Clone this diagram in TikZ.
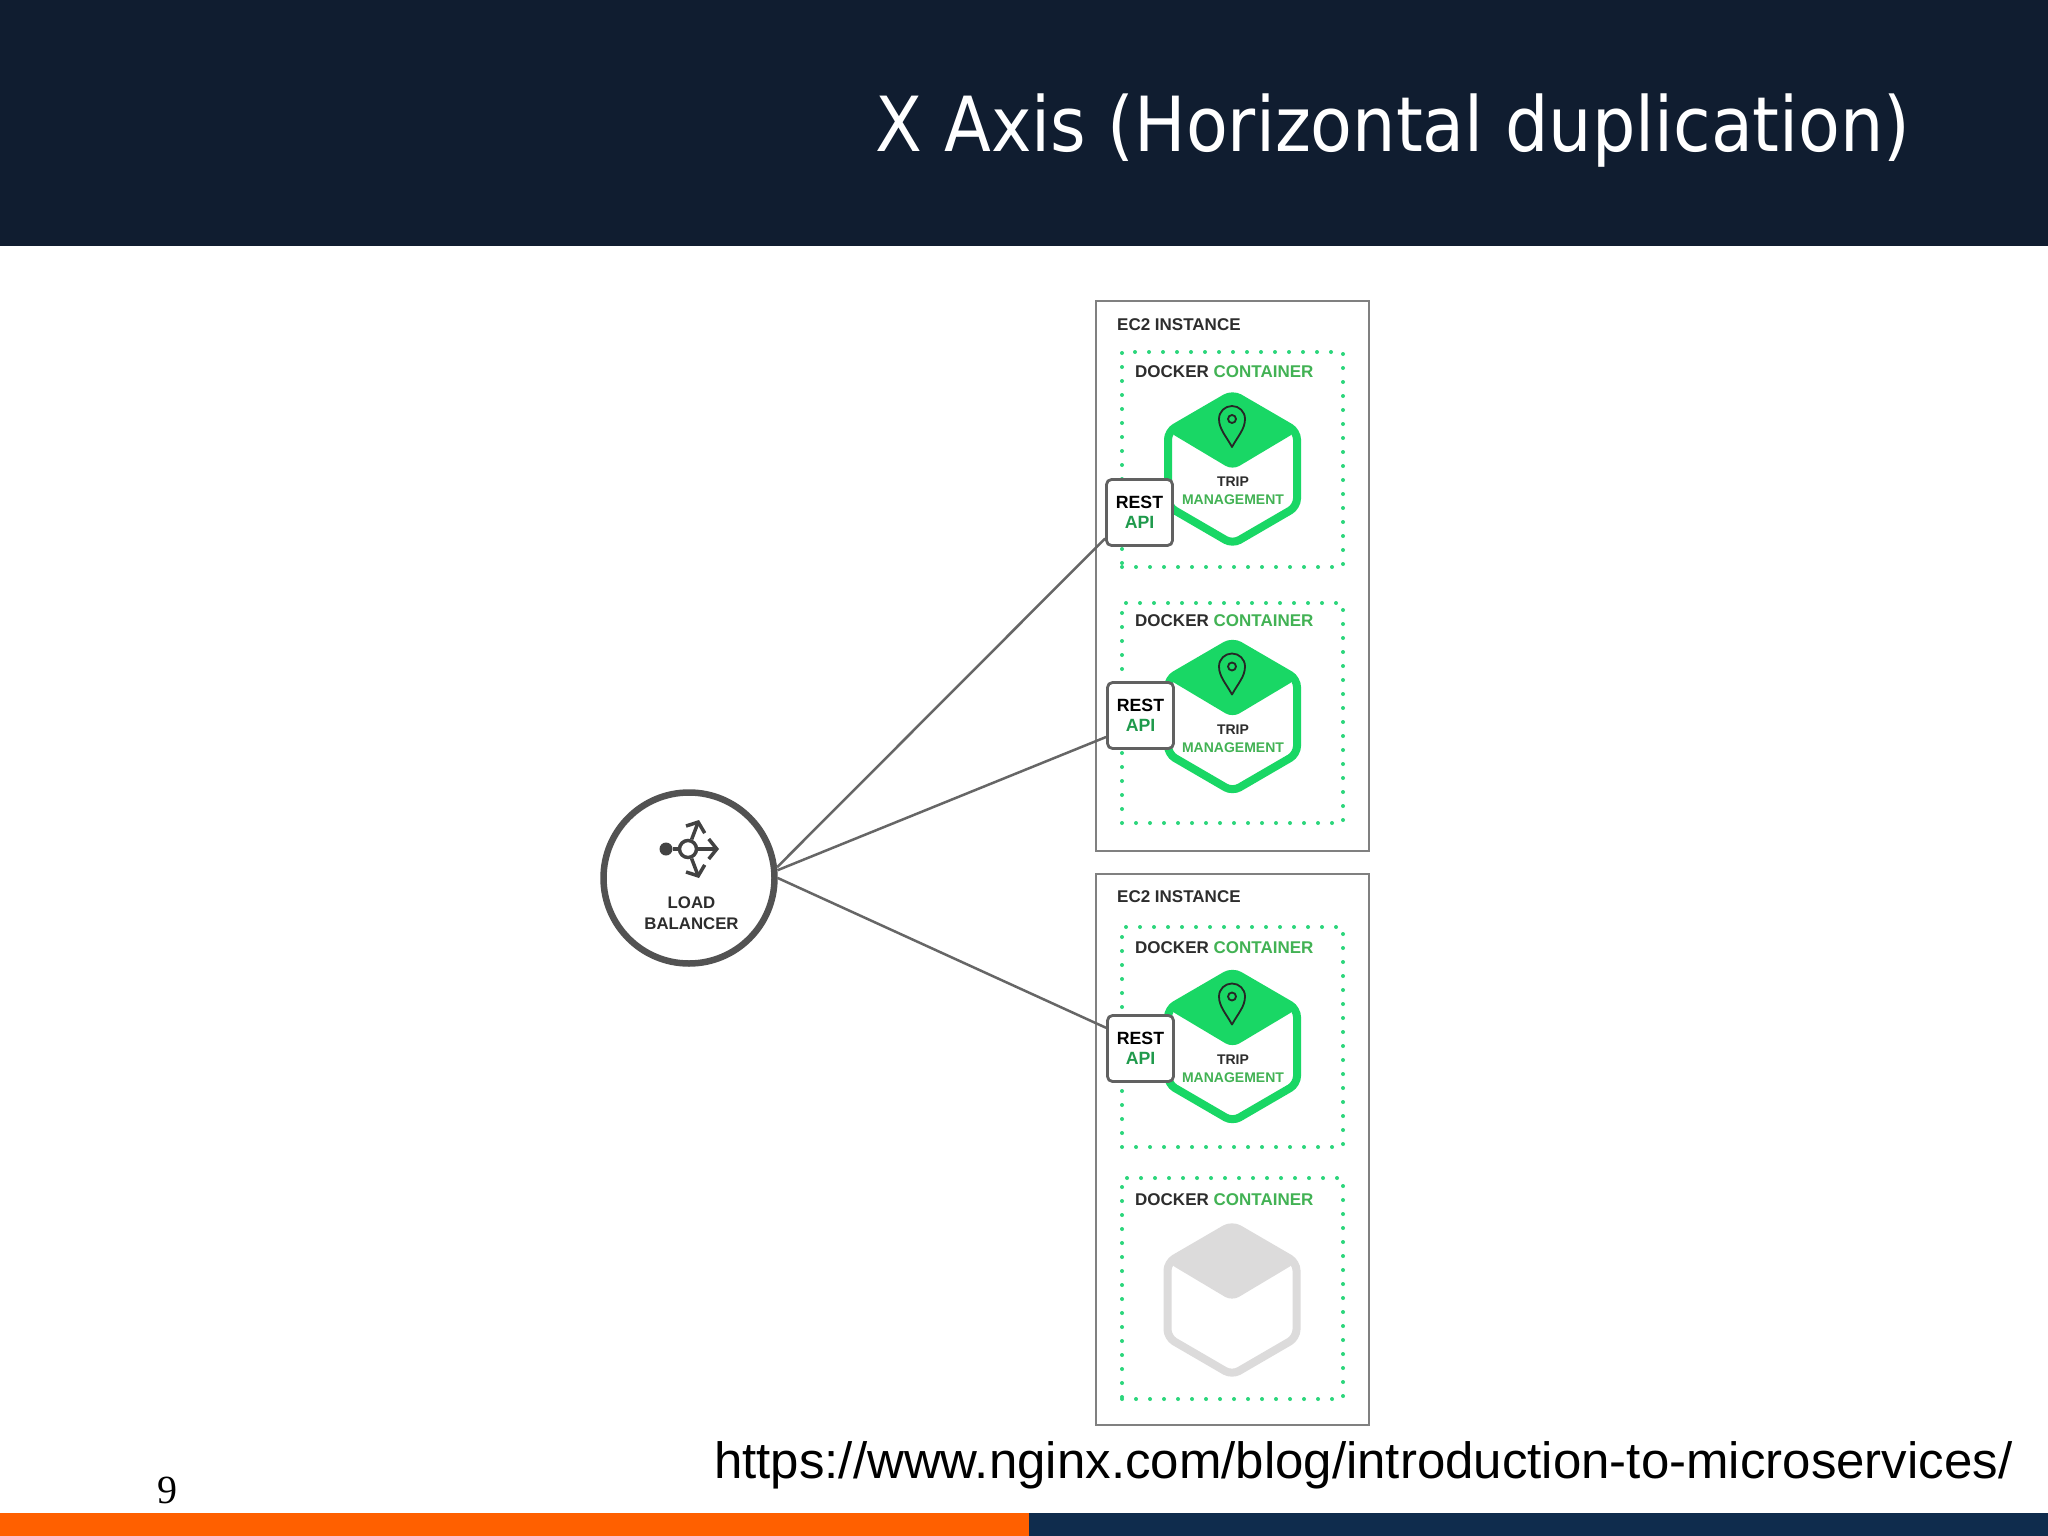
\documentclass[tikz,border=0pt]{standalone}
\usepackage{fontspec}
\usepackage{xcolor}
\usepackage{tikz}
\usetikzlibrary{arrows.meta}
\setmainfont{Liberation Sans}
\newfontfamily\titlefont{DejaVu Sans Condensed}
\newfontfamily\pagefont{Liberation Serif}
\definecolor{headnavy}{HTML}{101D30}
\definecolor{barnavy}{HTML}{0F2C4D}
\definecolor{barorange}{HTML}{FF6000}
\definecolor{tripgreen}{HTML}{19D765}
\definecolor{dotgreen}{HTML}{2BD67B}
\definecolor{labelgreen}{HTML}{42B254}
\definecolor{apigreen}{HTML}{1F9A4C}
\definecolor{labeldark}{HTML}{2D2D2D}
\definecolor{idlegray}{HTML}{DCDBDB}
\definecolor{edgegray}{HTML}{666666}
\tikzset{
	ec2box/.style={draw=black!50, line width=2.5pt, inner sep=0pt, minimum width=273pt},
	dockerbox/.style={draw=dotgreen, line width=4pt, line cap=round, dash pattern=on 0pt off 14pt, inner sep=0pt, minimum width=221pt},
	boxtitle/.style={anchor=base west, inner sep=0pt, text=labeldark, font=\fontsize{17}{20}\selectfont\bfseries},
	restbox/.style={draw=black!62, fill=white, line width=2.8pt, rounded corners=5pt, inner sep=0pt, minimum width=66pt, minimum height=66pt, align=center, font=\fontsize{17.7}{20}\selectfont\bfseries},
	triptext/.style={inner sep=0pt, align=center, text=labeldark, font=\fontsize{14}{18}\selectfont\bfseries},
	lbedge/.style={draw=edgegray, line width=2.5pt},
	iconline/.style={draw=labeldark!90, line width=3.5pt},
	iconarrow/.style={iconline, -{Straight Barb[length=8pt, width=20pt, line width=3.5pt]}},
	pics/hexbox/.style={code={
		\draw[#1, line width=8pt, rounded corners=8pt] (0,-75) -- (64.5,-37.5) -- (64.5,37.5) -- (0,75) -- (-64.5,37.5) -- (-64.5,-37.5) -- cycle;
		\fill[#1, rounded corners=8pt] (0,-75) -- (64.5,-37.5) -- (0,1) -- (-64.5,-37.5) -- cycle;
	}},
	pics/pinmark/.style={code={
		\draw[black!85, line width=1.8pt, line join=round] (0,-22) .. controls (-6,-33) and (-13,-40) .. (-13,-50) .. controls (-13,-57.5) and (-7,-63) .. (0,-63) .. controls (7,-63) and (13,-57.5) .. (13,-50) .. controls (13,-40) and (6,-33) .. (0,-22) -- cycle;
		\draw[black!85, line width=1.8pt] (0,-50) circle (4pt);
	}}
}

\begin{document}
\begin{tikzpicture}[x=1pt, y=-1pt]
	\useasboundingbox (0,0) rectangle (2048,1536);
	\fill[white] (0,0) rectangle (2048,1536);
	\fill[headnavy] (0,0) rectangle (2048,246);
	\fill[barorange] (0,1513) rectangle (1029,1536);
	\fill[barnavy] (1029,1513) rectangle (2048,1536);

	\node[anchor=base east, inner sep=0pt, text=white, font=\fontsize{76}{80}\selectfont\titlefont] (slidetitle) at (1911,152) {X Axis (Horizontal duplication)};
	\node[anchor=base west, inner sep=0pt, font=\fontsize{51}{55}\selectfont] (sourceurl) at (714,1478) {https://www.nginx.com/blog/introduction-to-microservices/};
	\node[anchor=base west, inner sep=0pt, font=\fontsize{40}{44}\selectfont\pagefont] (pagenum) at (157,1503) {9};

	\node[ec2box, minimum height=550pt] (ec2a) at (1232.5,576) {};
	\node[ec2box, minimum height=551pt] (ec2b) at (1232.5,1149.5) {};
	\node[boxtitle] (ec2atitle) at (1117,330) {EC2 INSTANCE};
	\node[boxtitle] (ec2btitle) at (1117,902) {EC2 INSTANCE};

	\node[dockerbox, minimum height=215pt] (docker1) at (1232.5,459.5) {};
	\node[dockerbox, minimum height=220pt] (docker2) at (1232.5,713) {};
	\node[dockerbox, minimum height=220pt] (docker3) at (1232.5,1037) {};
	\node[dockerbox, minimum height=221pt] (docker4) at (1232.5,1288.5) {};
	\node[boxtitle] (docker1title) at (1135,377) {DOCKER \textcolor{labelgreen}{CONTAINER}};
	\node[boxtitle] (docker2title) at (1135,626) {DOCKER \textcolor{labelgreen}{CONTAINER}};
	\node[boxtitle] (docker3title) at (1135,953) {DOCKER \textcolor{labelgreen}{CONTAINER}};
	\node[boxtitle] (docker4title) at (1135,1205) {DOCKER \textcolor{labelgreen}{CONTAINER}};

	\pic at (1232.5,469) {hexbox=tripgreen};
	\pic at (1232.5,716.5) {hexbox=tripgreen};
	\pic at (1232.5,1046.5) {hexbox=tripgreen};
	\pic at (1232,1300) {hexbox=idlegray};
	\pic at (1232,469) {pinmark};
	\pic at (1232,716.5) {pinmark};
	\pic at (1232,1046.5) {pinmark};

	\node[triptext] (trip1) at (1233,490.5) {TRIP\\\textcolor{labelgreen}{MANAGEMENT}};
	\node[triptext] (trip2) at (1233,738.5) {TRIP\\\textcolor{labelgreen}{MANAGEMENT}};
	\node[triptext] (trip3) at (1233,1068.5) {TRIP\\\textcolor{labelgreen}{MANAGEMENT}};

	\node[restbox] (rest1) at (1139.5,512.5) {REST\\\textcolor{apigreen}{API}};
	\node[restbox] (rest2) at (1140.5,715.5) {REST\\\textcolor{apigreen}{API}};
	\node[restbox] (rest3) at (1140.5,1048.5) {REST\\\textcolor{apigreen}{API}};

	\node[circle, draw=black!68, fill=white, line width=6.5pt, inner sep=0pt, minimum size=171pt] (balancer) at (689,878) {};
	\node[inner sep=0pt, align=center, text=labeldark, font=\fontsize{16.8}{21}\selectfont\bfseries] (balancertext) at (691.5,913) {LOAD\\BALANCER};
	\node[circle, fill=labeldark!90, inner sep=0pt, minimum size=13pt] (lbdot) at (666,849) {};
	\node[circle, draw=labeldark!90, fill=white, line width=3.5pt, inner sep=0pt, minimum size=17pt] (lbhub) at (688,849) {};
	\coordinate (lbright) at (719,849);
	\coordinate (lbup) at (699,820);
	\coordinate (lbdown) at (699,878);
	\draw[iconline] (lbdot) -- (lbhub);
	\draw[iconarrow] (lbhub) -- (lbright);
	\draw[iconarrow] (lbhub) -- (lbup);
	\draw[iconarrow] (lbhub) -- (lbdown);

	\draw[lbedge] (balancer.7) -- (rest1.217);
	\draw[lbedge] (balancer.5) -- (rest2.212);
	\draw[lbedge] (balancer.0) -- (rest3.149);
\end{tikzpicture}
\end{document}
